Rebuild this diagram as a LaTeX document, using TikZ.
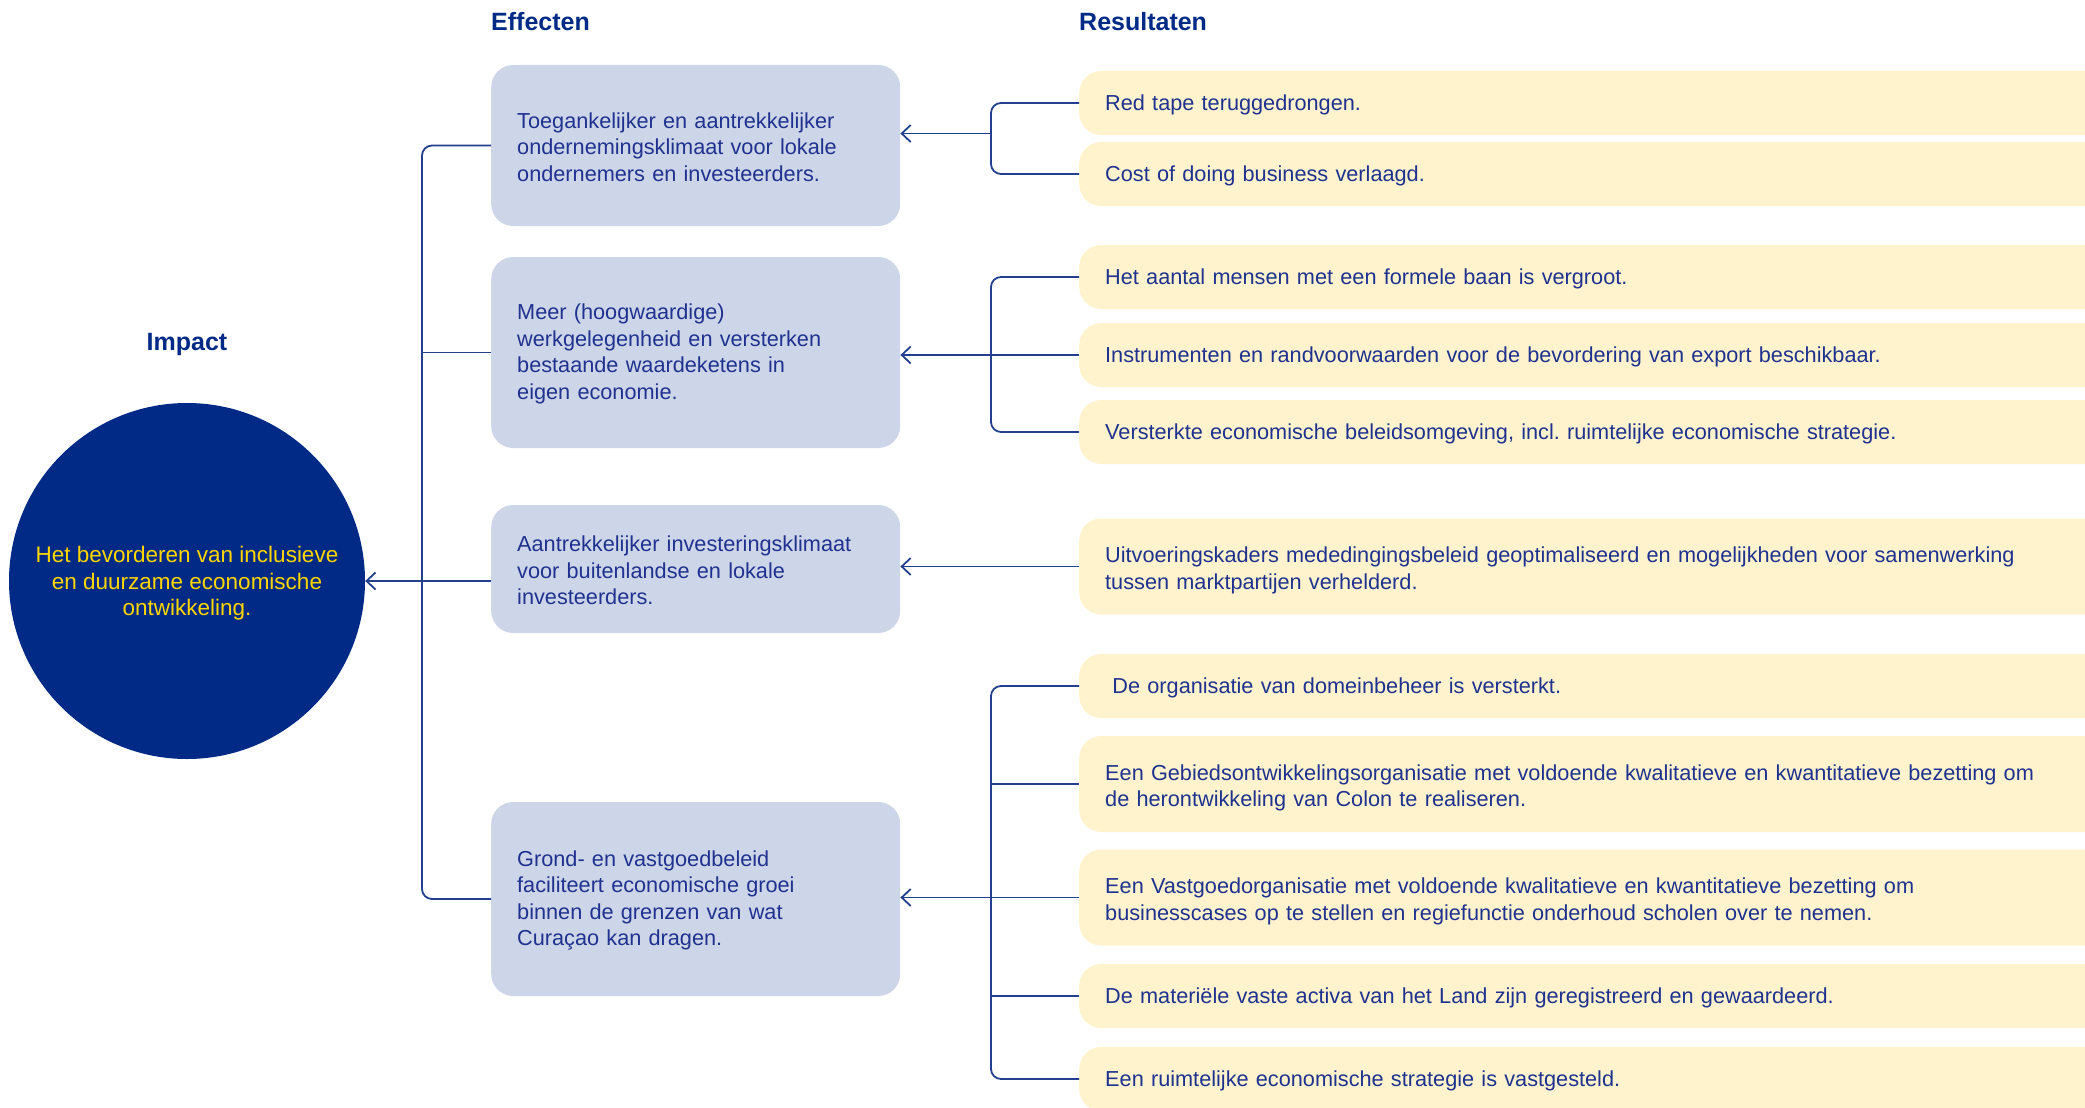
\documentclass[tikz,border=0pt]{standalone}
\usepackage{fontspec}
\setmainfont{Liberation Sans}
\usetikzlibrary{arrows.meta,calc}
\definecolor{navy}{HTML}{002A86}
\definecolor{inktext}{HTML}{1F3290}
\definecolor{linkblue}{HTML}{23408F}
\definecolor{effblue}{HTML}{CDD5E8}
\definecolor{resyellow}{HTML}{FEF3CC}
\definecolor{gold}{HTML}{FFD600}
\newcommand{\txtfont}{\fontsize{21.7}{26.6}\selectfont}
\newcommand{\kopfont}{\fontsize{25}{30}\selectfont\bfseries}
\frenchspacing
\begin{document}
\begin{tikzpicture}[x=1pt,y=-1pt,
  >={Straight Barb[length=9pt,width=17pt]},
  link/.style={draw=linkblue,line width=1.8pt},
  kop/.style={text=navy,font=\kopfont,inner sep=0pt},
  effbox/.style={rectangle,rounded corners=22pt,fill=effblue,text=inktext,
    anchor=west,text width=357pt,inner xsep=26pt,inner ysep=0pt,
    align=left,font=\txtfont,execute at begin node={\rule{0pt}{18.5pt}}},
  resbox/.style={rectangle,rounded corners=22pt,fill=resyellow,text=inktext,
    anchor=west,text width=990pt,inner xsep=26pt,inner ysep=0pt,
    text depth=0pt,minimum height=64pt,align=left,font=\txtfont},
  resbox2/.style={resbox,text depth=,minimum height=96pt,
    execute at begin node={\rule{0pt}{23.5pt}}}]
\useasboundingbox (0,0) rectangle (2085,1108);
\clip (0,0) rectangle (2085,1108);
%
% --- Kopjes ---
\node[kop] (hImpact) at (187,344) {Impact};
\node[kop,anchor=west] (hEff) at (491,22) {Effecten};
\node[kop,anchor=west] (hRes) at (1079,22) {Resultaten};
%
% --- Impact ---
\node[circle,fill=navy,minimum size=356pt,inner sep=0pt,text=gold,
  align=center,text depth=0pt,font=\fontsize{22.5}{26.6}\selectfont] (impact) at (187,581)
  {Het bevorderen van inclusieve\\en duurzame economische\\ontwikkeling.};
%
% --- Effecten ---
\node[effbox,minimum height=161pt] (eff1) at (491,145.5)
  {Toegankelijker en aantrekkelijker\\ondernemingsklimaat voor lokale\\ondernemers en investeerders.};
\node[effbox,minimum height=191pt] (eff2) at (491,352.5)
  {Meer (hoogwaardige)\\werkgelegenheid en versterken\\bestaande waardeketens in\\eigen economie.};
\node[effbox,minimum height=128pt] (eff3) at (491,569)
  {Aantrekkelijker investeringsklimaat\\voor buitenlandse en lokale\\investeerders.};
\node[effbox,minimum height=194pt] (eff4) at (491,899)
  {Grond- en vastgoedbeleid\\faciliteert economische groei\\binnen de grenzen van wat\\Curaçao kan dragen.};
%
% --- Resultaten ---
\node[resbox] (res1) at (1079,103) {Red tape teruggedrongen.};
\node[resbox] (res2) at (1079,174) {Cost of doing business verlaagd.};
\node[resbox] (res3) at (1079,277) {Het aantal mensen met een formele baan is vergroot.};
\node[resbox] (res4) at (1079,355) {Instrumenten en randvoorwaarden voor de bevordering van export beschikbaar.};
\node[resbox] (res5) at (1079,432) {Versterkte economische beleidsomgeving, incl. ruimtelijke economische strategie.};
\node[resbox2] (res6) at (1079,566.5)
  {Uitvoeringskaders mededingingsbeleid geoptimaliseerd en mogelijkheden voor samenwerking\\tussen marktpartijen verhelderd.};
\node[resbox] (res7) at (1079,686) {\ De organisatie van domeinbeheer is versterkt.};
\node[resbox2] (res8) at (1079,784)
  {Een Gebiedsontwikkelingsorganisatie met voldoende kwalitatieve en kwantitatieve bezetting om\\de herontwikkeling van Colon te realiseren.};
\node[resbox2] (res9) at (1079,897.5)
  {Een Vastgoedorganisatie met voldoende kwalitatieve en kwantitatieve bezetting om\\businesscases op te stellen en regiefunctie onderhoud scholen over te nemen.};
\node[resbox] (res10) at (1079,996) {De materiële vaste activa van het Land zijn geregistreerd en gewaardeerd.};
\node[resbox] (res11) at (1079,1079) {Een ruimtelijke economische strategie is vastgesteld.};
%
% --- Verbindingen links: Effecten naar Impact ---
\coordinate (lb) at (422,0);
\draw[link,rounded corners=10pt] (eff1.west) -- (eff1.west -| lb) -- (eff4.west -| lb) -- (eff4.west);
\draw[link] (eff2.west) -- (eff2.west -| lb);
\draw[link,->] (eff3.west |- impact.center) -- (impact.east);
%
% --- Verbindingen rechts: Resultaten naar Effecten ---
\coordinate (rb) at (991,0);
% Groep 1
\draw[link,rounded corners=10pt] (res1.west) -- (res1.west -| rb) -- (res2.west -| rb) -- (res2.west);
\coordinate (m1) at ($(res1.west -| rb)!0.43!(res2.west -| rb)$);
\draw[link,->] (m1) -- (m1 -| eff1.east);
% Groep 2
\draw[link,rounded corners=10pt] (res3.west) -- (res3.west -| rb) -- (res5.west -| rb) -- (res5.west);
\draw[link,->] (res4.west) -- (res4.west -| eff2.east);
% Groep 3
\draw[link,->] (res6.west) -- (res6.west -| eff3.east);
% Groep 4
\draw[link,rounded corners=10pt] (res7.west) -- (res7.west -| rb) -- (res11.west -| rb) -- (res11.west);
\draw[link] (res8.west) -- (res8.west -| rb);
\draw[link] (res10.west) -- (res10.west -| rb);
\draw[link,->] (res9.west) -- (res9.west -| eff4.east);
\end{tikzpicture}
\end{document}
